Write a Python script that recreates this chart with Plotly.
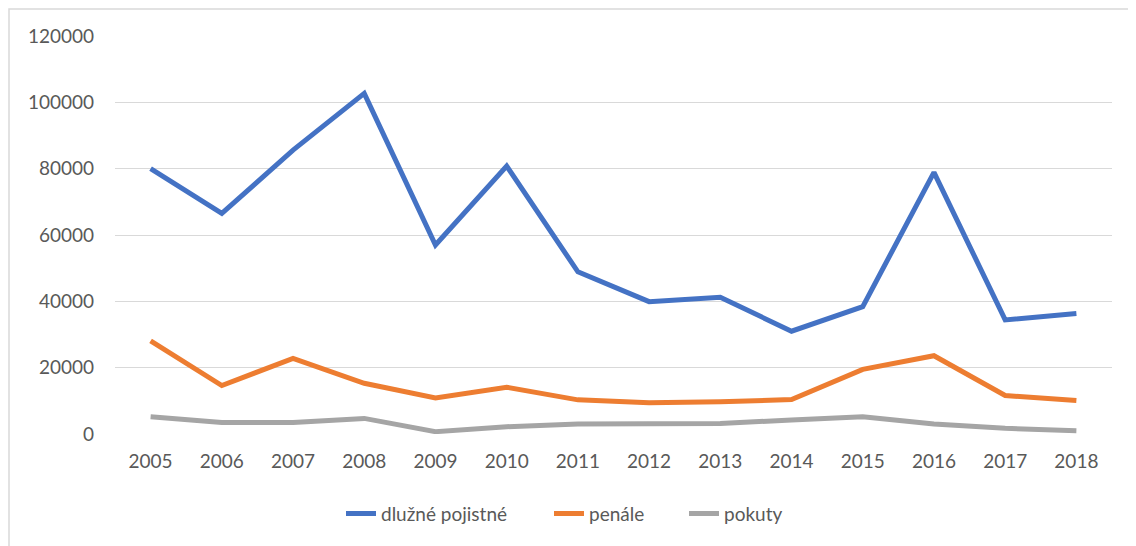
import plotly.graph_objects as go

years = ["2005", "2006", "2007", "2008", "2009", "2010", "2011",
         "2012", "2013", "2014", "2015", "2016", "2017", "2018"]
dluzne_pojistne = [80000, 66500, 85600, 102700, 57000, 80800, 48900,
                   39900, 41200, 31000, 38400, 78900, 34400, 36300]
penale = [28100, 14600, 22800, 15300, 10900, 14100, 10300,
          9400, 9700, 10400, 19500, 23600, 11600, 10100]
pokuty = [5200, 3500, 3500, 4700, 700, 2200, 3000,
          3000, 3200, 4200, 5200, 3000, 1700, 1000]
y_ticks = [0, 20000, 40000, 60000, 80000, 100000, 120000]

series = [
    ("dlužné pojistné", dluzne_pojistne, "#4472C4", "legend"),
    ("penále", penale, "#ED7D31", "legend2"),
    ("pokuty", pokuty, "#A5A5A5", "legend3"),
]

fig = go.Figure()
for name, vals, color, lg in series:
    fig.add_trace(go.Scatter(
        x=years, y=vals, name=name, mode="lines", legend=lg,
        line=dict(color=color, width=5, shape="linear"),
    ))

# page body has an 8px default margin; figure sized to fit the window
W, H = 1128, 538
L, T = 107, 28
PW, PH = 997, 398

font_family = "Lato, 'Open Sans', sans-serif"


def legend_at(text_left_px):
    return dict(orientation="h", x=(text_left_px - 42 - 115) / PW, xanchor="left",
                y=-0.2, yanchor="middle",
                font=dict(size=19, color="#595959"),
                bgcolor="rgba(0,0,0,0)")


fig.update_layout(
    width=W, height=H,
    margin=dict(l=L, r=W - L - PW, t=T, b=H - T - PH),
    paper_bgcolor="white", plot_bgcolor="white",
    font=dict(family=font_family, size=19, color="#595959"),
    showlegend=True,
    legend=legend_at(383),
    legend2=legend_at(591),
    legend3=legend_at(726),
    xaxis=dict(type="category", range=[-0.5, 13.5], showgrid=False,
               showline=False, zeroline=False, ticks="",
               tickfont=dict(size=19, color="#595959"), ticklabelstandoff=14),
    yaxis=dict(range=[0, 120000], tickvals=y_ticks,
               ticktext=[str(v) for v in y_ticks],
               showgrid=True, gridcolor="#D9D9D9", gridwidth=1.3,
               zeroline=False, showline=False, ticks="",
               tickfont=dict(size=19, color="#595959"), ticklabelstandoff=20),
    shapes=[dict(type="rect", xref="paper", yref="paper",
                 x0=(1 - L) / PW, x1=1.2, y0=-0.5, y1=(T + PH - 1) / PH,
                 line=dict(color="#D9D9D9", width=1.5), fillcolor="rgba(0,0,0,0)",
                 layer="below")],
)

fig.write_html("out.html")
